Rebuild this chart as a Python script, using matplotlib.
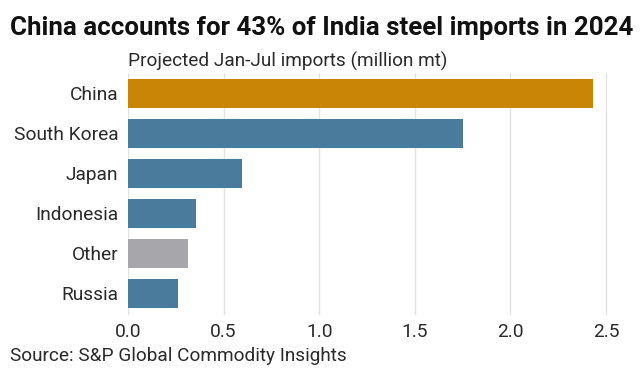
import matplotlib.pyplot as plt

countries = ["China", "South Korea", "Japan", "Indonesia", "Other", "Russia"]
imports = [2.43, 1.75, 0.595, 0.354, 0.314, 0.263]
bar_colors = ["#C98506", "#4A7A9C", "#4A7A9C", "#4A7A9C", "#A7A7AB", "#4A7A9C"]
xticks = [0.0, 0.5, 1.0, 1.5, 2.0, 2.5]

plt.rcParams['font.family'] = ['Roboto', 'DejaVu Sans']
text_color = "#2a2a2a"

fig = plt.figure(figsize=(6.44, 3.76), dpi=100)
ax = fig.add_axes([128 / 644, 1 - 315 / 376, (625 - 128) / 644, (315 - 73) / 376])

ypos = list(range(len(countries)))
ax.barh(ypos, imports, height=0.725, color=bar_colors, zorder=3)
ax.set_yticks(ypos)
ax.set_yticklabels(countries)
ax.set_ylim(5.55, -0.5)
ax.set_xlim(0, 2.6)
ax.set_xticks(xticks)
ax.set_xticklabels([f"{t:.1f}" for t in xticks])

ax.grid(axis="x", color="#E4E4E4", linewidth=1, zorder=0)
for s in ax.spines.values():
    s.set_visible(False)
ax.tick_params(axis="both", length=0, labelsize=13.8, labelcolor=text_color)
ax.tick_params(axis="y", pad=7)
ax.tick_params(axis="x", pad=6)

fig.text(10 / 644, 1 - 28 / 376, "China accounts for 43% of India steel imports in 2024",
         fontsize=18.6, fontweight="bold", color="#111111", va="center", ha="left")
fig.text(128 / 644, 1 - 61 / 376, "Projected Jan-Jul imports (million mt)",
         fontsize=13.7, color=text_color, va="center", ha="left")
fig.text(10 / 644, 1 - 356 / 376, "Source: S&P Global Commodity Insights",
         fontsize=13.7, color=text_color, va="center", ha="left")

fig.savefig("out.png", dpi=100)
